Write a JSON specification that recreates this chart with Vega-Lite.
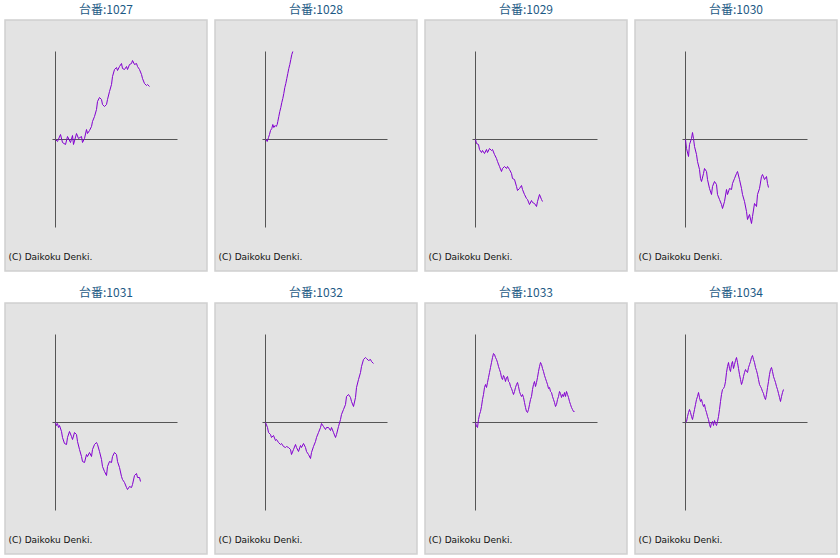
{
  "$schema": "https://vega.github.io/schema/vega-lite/v6.json",
  "background": "white",
  "padding": {"left": 4, "top": 3, "right": 0, "bottom": 0},
  "data": {
    "values": [
      {"m": "1027", "x": 0, "y": 0}, {"m": "1027", "x": 2, "y": -2}, {"m": "1027", "x": 5, "y": 5}, {"m": "1027", "x": 7, "y": -3}, {"m": "1027", "x": 10, "y": -5}, {"m": "1027", "x": 12, "y": 3}, {"m": "1027", "x": 15, "y": -3}, {"m": "1027", "x": 17, "y": 4}, {"m": "1027", "x": 18, "y": -5}, {"m": "1027", "x": 21, "y": 6}, {"m": "1027", "x": 23, "y": 1}, {"m": "1027", "x": 26, "y": 3}, {"m": "1027", "x": 27, "y": -3}, {"m": "1027", "x": 29, "y": 1}, {"m": "1027", "x": 31, "y": 10}, {"m": "1027", "x": 32, "y": 6}, {"m": "1027", "x": 34, "y": 9}, {"m": "1027", "x": 36, "y": 13}, {"m": "1027", "x": 37, "y": 18}, {"m": "1027", "x": 39, "y": 23}, {"m": "1027", "x": 41, "y": 30}, {"m": "1027", "x": 42, "y": 38}, {"m": "1027", "x": 44, "y": 42}, {"m": "1027", "x": 46, "y": 40}, {"m": "1027", "x": 47, "y": 35}, {"m": "1027", "x": 49, "y": 33}, {"m": "1027", "x": 51, "y": 35}, {"m": "1027", "x": 52, "y": 40}, {"m": "1027", "x": 54, "y": 48}, {"m": "1027", "x": 56, "y": 55}, {"m": "1027", "x": 57, "y": 63}, {"m": "1027", "x": 59, "y": 70}, {"m": "1027", "x": 61, "y": 72}, {"m": "1027", "x": 62, "y": 69}, {"m": "1027", "x": 64, "y": 73}, {"m": "1027", "x": 66, "y": 76}, {"m": "1027", "x": 67, "y": 71}, {"m": "1027", "x": 69, "y": 70}, {"m": "1027", "x": 71, "y": 73}, {"m": "1027", "x": 72, "y": 70}, {"m": "1027", "x": 74, "y": 75}, {"m": "1027", "x": 76, "y": 76}, {"m": "1027", "x": 77, "y": 79}, {"m": "1027", "x": 79, "y": 75}, {"m": "1027", "x": 81, "y": 76}, {"m": "1027", "x": 82, "y": 73}, {"m": "1027", "x": 84, "y": 70}, {"m": "1027", "x": 86, "y": 65}, {"m": "1027", "x": 87, "y": 61}, {"m": "1027", "x": 89, "y": 56}, {"m": "1027", "x": 91, "y": 54}, {"m": "1027", "x": 92, "y": 55}, {"m": "1027", "x": 94, "y": 53},
      {"m": "1028", "x": 0, "y": 0}, {"m": "1028", "x": 1.7, "y": -2}, {"m": "1028", "x": 3, "y": 2}, {"m": "1028", "x": 4, "y": 5}, {"m": "1028", "x": 5, "y": 9}, {"m": "1028", "x": 6.3, "y": 11}, {"m": "1028", "x": 7.3, "y": 15}, {"m": "1028", "x": 8.3, "y": 12}, {"m": "1028", "x": 9.7, "y": 14}, {"m": "1028", "x": 10.7, "y": 13}, {"m": "1028", "x": 11.7, "y": 15}, {"m": "1028", "x": 12.3, "y": 18}, {"m": "1028", "x": 13.3, "y": 23}, {"m": "1028", "x": 14.3, "y": 28}, {"m": "1028", "x": 15.3, "y": 32}, {"m": "1028", "x": 16.3, "y": 37}, {"m": "1028", "x": 17.3, "y": 41}, {"m": "1028", "x": 18.3, "y": 46}, {"m": "1028", "x": 19.3, "y": 52}, {"m": "1028", "x": 20.3, "y": 56}, {"m": "1028", "x": 21.3, "y": 61}, {"m": "1028", "x": 22.3, "y": 66}, {"m": "1028", "x": 23.3, "y": 71}, {"m": "1028", "x": 24.3, "y": 75}, {"m": "1028", "x": 25.3, "y": 80}, {"m": "1028", "x": 26.3, "y": 85}, {"m": "1028", "x": 27.3, "y": 88},
      {"m": "1029", "x": 0, "y": 0}, {"m": "1029", "x": 1, "y": -4}, {"m": "1029", "x": 3, "y": -5}, {"m": "1029", "x": 4, "y": -10}, {"m": "1029", "x": 6, "y": -13}, {"m": "1029", "x": 7, "y": -11}, {"m": "1029", "x": 9, "y": -14}, {"m": "1029", "x": 11, "y": -10}, {"m": "1029", "x": 12, "y": -13}, {"m": "1029", "x": 14, "y": -9}, {"m": "1029", "x": 16, "y": -11}, {"m": "1029", "x": 17, "y": -10}, {"m": "1029", "x": 19, "y": -15}, {"m": "1029", "x": 21, "y": -19}, {"m": "1029", "x": 22, "y": -22}, {"m": "1029", "x": 24, "y": -27}, {"m": "1029", "x": 26, "y": -32}, {"m": "1029", "x": 27, "y": -29}, {"m": "1029", "x": 29, "y": -27}, {"m": "1029", "x": 31, "y": -29}, {"m": "1029", "x": 32, "y": -27}, {"m": "1029", "x": 34, "y": -30}, {"m": "1029", "x": 36, "y": -34}, {"m": "1029", "x": 37, "y": -39}, {"m": "1029", "x": 39, "y": -40}, {"m": "1029", "x": 41, "y": -47}, {"m": "1029", "x": 42, "y": -51}, {"m": "1029", "x": 44, "y": -49}, {"m": "1029", "x": 46, "y": -46}, {"m": "1029", "x": 47, "y": -50}, {"m": "1029", "x": 49, "y": -55}, {"m": "1029", "x": 51, "y": -59}, {"m": "1029", "x": 52, "y": -60}, {"m": "1029", "x": 54, "y": -65}, {"m": "1029", "x": 56, "y": -61}, {"m": "1029", "x": 57, "y": -63}, {"m": "1029", "x": 59, "y": -64}, {"m": "1029", "x": 61, "y": -67}, {"m": "1029", "x": 62, "y": -62}, {"m": "1029", "x": 64, "y": -55}, {"m": "1029", "x": 66, "y": -60}, {"m": "1029", "x": 67, "y": -62},
      {"m": "1030", "x": 0, "y": 0}, {"m": "1030", "x": 1, "y": -9}, {"m": "1030", "x": 3, "y": -17}, {"m": "1030", "x": 4, "y": -5}, {"m": "1030", "x": 6, "y": 1}, {"m": "1030", "x": 7, "y": 7}, {"m": "1030", "x": 8, "y": 1}, {"m": "1030", "x": 9, "y": -7}, {"m": "1030", "x": 11, "y": -15}, {"m": "1030", "x": 12, "y": -22}, {"m": "1030", "x": 14, "y": -30}, {"m": "1030", "x": 15, "y": -39}, {"m": "1030", "x": 16, "y": -42}, {"m": "1030", "x": 18, "y": -34}, {"m": "1030", "x": 19, "y": -29}, {"m": "1030", "x": 21, "y": -32}, {"m": "1030", "x": 22, "y": -40}, {"m": "1030", "x": 24, "y": -49}, {"m": "1030", "x": 26, "y": -55}, {"m": "1030", "x": 27, "y": -47}, {"m": "1030", "x": 29, "y": -42}, {"m": "1030", "x": 31, "y": -45}, {"m": "1030", "x": 32, "y": -55}, {"m": "1030", "x": 34, "y": -60}, {"m": "1030", "x": 36, "y": -65}, {"m": "1030", "x": 37, "y": -69}, {"m": "1030", "x": 39, "y": -62}, {"m": "1030", "x": 41, "y": -50}, {"m": "1030", "x": 42, "y": -55}, {"m": "1030", "x": 44, "y": -49}, {"m": "1030", "x": 46, "y": -50}, {"m": "1030", "x": 47, "y": -44}, {"m": "1030", "x": 49, "y": -39}, {"m": "1030", "x": 51, "y": -34}, {"m": "1030", "x": 52, "y": -32}, {"m": "1030", "x": 54, "y": -40}, {"m": "1030", "x": 56, "y": -49}, {"m": "1030", "x": 57, "y": -55}, {"m": "1030", "x": 59, "y": -62}, {"m": "1030", "x": 61, "y": -72}, {"m": "1030", "x": 62, "y": -80}, {"m": "1030", "x": 64, "y": -75}, {"m": "1030", "x": 66, "y": -84}, {"m": "1030", "x": 67, "y": -77}, {"m": "1030", "x": 69, "y": -64}, {"m": "1030", "x": 71, "y": -67}, {"m": "1030", "x": 72, "y": -55}, {"m": "1030", "x": 74, "y": -49}, {"m": "1030", "x": 76, "y": -37}, {"m": "1030", "x": 77, "y": -35}, {"m": "1030", "x": 79, "y": -40}, {"m": "1030", "x": 81, "y": -37}, {"m": "1030", "x": 82, "y": -44}, {"m": "1030", "x": 83, "y": -48},
      {"m": "1031", "x": 0, "y": 0}, {"m": "1031", "x": 1, "y": -3}, {"m": "1031", "x": 2, "y": -1}, {"m": "1031", "x": 3, "y": -5}, {"m": "1031", "x": 4, "y": -3}, {"m": "1031", "x": 6, "y": -9}, {"m": "1031", "x": 7, "y": -15}, {"m": "1031", "x": 9, "y": -21}, {"m": "1031", "x": 11, "y": -22}, {"m": "1031", "x": 12, "y": -15}, {"m": "1031", "x": 14, "y": -9}, {"m": "1031", "x": 16, "y": -14}, {"m": "1031", "x": 17, "y": -17}, {"m": "1031", "x": 19, "y": -10}, {"m": "1031", "x": 21, "y": -12}, {"m": "1031", "x": 22, "y": -19}, {"m": "1031", "x": 24, "y": -27}, {"m": "1031", "x": 26, "y": -34}, {"m": "1031", "x": 27, "y": -39}, {"m": "1031", "x": 29, "y": -40}, {"m": "1031", "x": 31, "y": -32}, {"m": "1031", "x": 32, "y": -34}, {"m": "1031", "x": 34, "y": -30}, {"m": "1031", "x": 36, "y": -34}, {"m": "1031", "x": 37, "y": -27}, {"m": "1031", "x": 39, "y": -22}, {"m": "1031", "x": 41, "y": -20}, {"m": "1031", "x": 42, "y": -22}, {"m": "1031", "x": 44, "y": -29}, {"m": "1031", "x": 46, "y": -37}, {"m": "1031", "x": 47, "y": -44}, {"m": "1031", "x": 49, "y": -49}, {"m": "1031", "x": 51, "y": -53}, {"m": "1031", "x": 52, "y": -44}, {"m": "1031", "x": 54, "y": -39}, {"m": "1031", "x": 56, "y": -40}, {"m": "1031", "x": 57, "y": -34}, {"m": "1031", "x": 59, "y": -30}, {"m": "1031", "x": 61, "y": -32}, {"m": "1031", "x": 62, "y": -39}, {"m": "1031", "x": 64, "y": -45}, {"m": "1031", "x": 66, "y": -54}, {"m": "1031", "x": 67, "y": -57}, {"m": "1031", "x": 69, "y": -60}, {"m": "1031", "x": 71, "y": -65}, {"m": "1031", "x": 72, "y": -67}, {"m": "1031", "x": 74, "y": -64}, {"m": "1031", "x": 76, "y": -65}, {"m": "1031", "x": 77, "y": -62}, {"m": "1031", "x": 79, "y": -53}, {"m": "1031", "x": 81, "y": -51}, {"m": "1031", "x": 82, "y": -55}, {"m": "1031", "x": 84, "y": -55}, {"m": "1031", "x": 85, "y": -59},
      {"m": "1032", "x": 0, "y": 0}, {"m": "1032", "x": 2, "y": -5}, {"m": "1032", "x": 3, "y": -10}, {"m": "1032", "x": 5, "y": -12}, {"m": "1032", "x": 6, "y": -15}, {"m": "1032", "x": 8, "y": -13}, {"m": "1032", "x": 10, "y": -18}, {"m": "1032", "x": 11, "y": -17}, {"m": "1032", "x": 13, "y": -20}, {"m": "1032", "x": 15, "y": -22}, {"m": "1032", "x": 16, "y": -21}, {"m": "1032", "x": 18, "y": -24}, {"m": "1032", "x": 20, "y": -25}, {"m": "1032", "x": 21, "y": -24}, {"m": "1032", "x": 23, "y": -25}, {"m": "1032", "x": 25, "y": -27}, {"m": "1032", "x": 26, "y": -32}, {"m": "1032", "x": 28, "y": -27}, {"m": "1032", "x": 30, "y": -22}, {"m": "1032", "x": 31, "y": -25}, {"m": "1032", "x": 33, "y": -29}, {"m": "1032", "x": 35, "y": -23}, {"m": "1032", "x": 36, "y": -25}, {"m": "1032", "x": 38, "y": -21}, {"m": "1032", "x": 40, "y": -25}, {"m": "1032", "x": 41, "y": -29}, {"m": "1032", "x": 43, "y": -32}, {"m": "1032", "x": 45, "y": -36}, {"m": "1032", "x": 46, "y": -30}, {"m": "1032", "x": 48, "y": -24}, {"m": "1032", "x": 50, "y": -19}, {"m": "1032", "x": 51, "y": -15}, {"m": "1032", "x": 53, "y": -10}, {"m": "1032", "x": 55, "y": -5}, {"m": "1032", "x": 56, "y": -1}, {"m": "1032", "x": 58, "y": -4}, {"m": "1032", "x": 60, "y": -7}, {"m": "1032", "x": 61, "y": -5}, {"m": "1032", "x": 63, "y": -5}, {"m": "1032", "x": 65, "y": -8}, {"m": "1032", "x": 66, "y": -5}, {"m": "1032", "x": 68, "y": -10}, {"m": "1032", "x": 70, "y": -15}, {"m": "1032", "x": 71, "y": -12}, {"m": "1032", "x": 73, "y": -4}, {"m": "1032", "x": 75, "y": 3}, {"m": "1032", "x": 76, "y": 8}, {"m": "1032", "x": 78, "y": 13}, {"m": "1032", "x": 80, "y": 18}, {"m": "1032", "x": 81, "y": 26}, {"m": "1032", "x": 83, "y": 28}, {"m": "1032", "x": 85, "y": 25}, {"m": "1032", "x": 86, "y": 21}, {"m": "1032", "x": 88, "y": 16}, {"m": "1032", "x": 90, "y": 25}, {"m": "1032", "x": 91, "y": 35}, {"m": "1032", "x": 93, "y": 43}, {"m": "1032", "x": 95, "y": 50}, {"m": "1032", "x": 96, "y": 56}, {"m": "1032", "x": 98, "y": 63}, {"m": "1032", "x": 100, "y": 65}, {"m": "1032", "x": 101, "y": 64}, {"m": "1032", "x": 103, "y": 62}, {"m": "1032", "x": 105, "y": 63}, {"m": "1032", "x": 106, "y": 61}, {"m": "1032", "x": 108, "y": 59},
      {"m": "1033", "x": 0, "y": 0}, {"m": "1033", "x": 1, "y": -4}, {"m": "1033", "x": 2, "y": -5}, {"m": "1033", "x": 3, "y": 3}, {"m": "1033", "x": 4, "y": 8}, {"m": "1033", "x": 5, "y": 11}, {"m": "1033", "x": 6, "y": 16}, {"m": "1033", "x": 7, "y": 23}, {"m": "1033", "x": 8, "y": 28}, {"m": "1033", "x": 9, "y": 35}, {"m": "1033", "x": 10, "y": 38}, {"m": "1033", "x": 11, "y": 35}, {"m": "1033", "x": 12, "y": 40}, {"m": "1033", "x": 13, "y": 45}, {"m": "1033", "x": 14, "y": 50}, {"m": "1033", "x": 15, "y": 55}, {"m": "1033", "x": 16, "y": 60}, {"m": "1033", "x": 17, "y": 65}, {"m": "1033", "x": 18, "y": 69}, {"m": "1033", "x": 19, "y": 68}, {"m": "1033", "x": 20, "y": 65}, {"m": "1033", "x": 21, "y": 63}, {"m": "1033", "x": 22, "y": 60}, {"m": "1033", "x": 23, "y": 56}, {"m": "1033", "x": 24, "y": 53}, {"m": "1033", "x": 25, "y": 50}, {"m": "1033", "x": 26, "y": 45}, {"m": "1033", "x": 27, "y": 43}, {"m": "1033", "x": 28, "y": 47}, {"m": "1033", "x": 29, "y": 45}, {"m": "1033", "x": 30, "y": 41}, {"m": "1033", "x": 31, "y": 45}, {"m": "1033", "x": 32, "y": 46}, {"m": "1033", "x": 33, "y": 41}, {"m": "1033", "x": 34, "y": 40}, {"m": "1033", "x": 35, "y": 36}, {"m": "1033", "x": 36, "y": 34}, {"m": "1033", "x": 37, "y": 31}, {"m": "1033", "x": 38, "y": 28}, {"m": "1033", "x": 39, "y": 31}, {"m": "1033", "x": 40, "y": 35}, {"m": "1033", "x": 41, "y": 38}, {"m": "1033", "x": 42, "y": 40}, {"m": "1033", "x": 43, "y": 36}, {"m": "1033", "x": 44, "y": 31}, {"m": "1033", "x": 45, "y": 28}, {"m": "1033", "x": 46, "y": 26}, {"m": "1033", "x": 47, "y": 28}, {"m": "1033", "x": 48, "y": 25}, {"m": "1033", "x": 49, "y": 20}, {"m": "1033", "x": 50, "y": 15}, {"m": "1033", "x": 51, "y": 11}, {"m": "1033", "x": 52, "y": 10}, {"m": "1033", "x": 53, "y": 13}, {"m": "1033", "x": 54, "y": 18}, {"m": "1033", "x": 55, "y": 23}, {"m": "1033", "x": 56, "y": 26}, {"m": "1033", "x": 57, "y": 33}, {"m": "1033", "x": 58, "y": 38}, {"m": "1033", "x": 59, "y": 41}, {"m": "1033", "x": 60, "y": 36}, {"m": "1033", "x": 61, "y": 40}, {"m": "1033", "x": 62, "y": 45}, {"m": "1033", "x": 63, "y": 51}, {"m": "1033", "x": 64, "y": 56}, {"m": "1033", "x": 65, "y": 60}, {"m": "1033", "x": 66, "y": 58}, {"m": "1033", "x": 67, "y": 54}, {"m": "1033", "x": 68, "y": 51}, {"m": "1033", "x": 69, "y": 47}, {"m": "1033", "x": 70, "y": 44}, {"m": "1033", "x": 71, "y": 41}, {"m": "1033", "x": 72, "y": 38}, {"m": "1033", "x": 73, "y": 34}, {"m": "1033", "x": 74, "y": 35}, {"m": "1033", "x": 75, "y": 31}, {"m": "1033", "x": 76, "y": 30}, {"m": "1033", "x": 77, "y": 26}, {"m": "1033", "x": 78, "y": 23}, {"m": "1033", "x": 79, "y": 20}, {"m": "1033", "x": 80, "y": 16}, {"m": "1033", "x": 81, "y": 18}, {"m": "1033", "x": 82, "y": 23}, {"m": "1033", "x": 83, "y": 26}, {"m": "1033", "x": 84, "y": 31}, {"m": "1033", "x": 85, "y": 29}, {"m": "1033", "x": 86, "y": 25}, {"m": "1033", "x": 87, "y": 28}, {"m": "1033", "x": 88, "y": 26}, {"m": "1033", "x": 89, "y": 30}, {"m": "1033", "x": 90, "y": 26}, {"m": "1033", "x": 91, "y": 31}, {"m": "1033", "x": 92, "y": 28}, {"m": "1033", "x": 93, "y": 25}, {"m": "1033", "x": 94, "y": 21}, {"m": "1033", "x": 95, "y": 18}, {"m": "1033", "x": 96, "y": 15}, {"m": "1033", "x": 97, "y": 13}, {"m": "1033", "x": 98, "y": 11}, {"m": "1033", "x": 99, "y": 11},
      {"m": "1034", "x": 0, "y": 0}, {"m": "1034", "x": 1, "y": 1}, {"m": "1034", "x": 2, "y": 6}, {"m": "1034", "x": 3, "y": 10}, {"m": "1034", "x": 4, "y": 13}, {"m": "1034", "x": 5, "y": 10}, {"m": "1034", "x": 6, "y": 6}, {"m": "1034", "x": 7, "y": 3}, {"m": "1034", "x": 8, "y": 8}, {"m": "1034", "x": 9, "y": 13}, {"m": "1034", "x": 10, "y": 18}, {"m": "1034", "x": 11, "y": 23}, {"m": "1034", "x": 12, "y": 26}, {"m": "1034", "x": 13, "y": 30}, {"m": "1034", "x": 14, "y": 25}, {"m": "1034", "x": 15, "y": 21}, {"m": "1034", "x": 16, "y": 23}, {"m": "1034", "x": 17, "y": 19}, {"m": "1034", "x": 18, "y": 16}, {"m": "1034", "x": 19, "y": 18}, {"m": "1034", "x": 20, "y": 13}, {"m": "1034", "x": 21, "y": 10}, {"m": "1034", "x": 22, "y": 6}, {"m": "1034", "x": 23, "y": 3}, {"m": "1034", "x": 24, "y": -2}, {"m": "1034", "x": 25, "y": -5}, {"m": "1034", "x": 26, "y": 0}, {"m": "1034", "x": 27, "y": 1}, {"m": "1034", "x": 28, "y": -3}, {"m": "1034", "x": 29, "y": 2}, {"m": "1034", "x": 30, "y": -1}, {"m": "1034", "x": 31, "y": -3}, {"m": "1034", "x": 32, "y": 1}, {"m": "1034", "x": 33, "y": 6}, {"m": "1034", "x": 34, "y": 13}, {"m": "1034", "x": 35, "y": 21}, {"m": "1034", "x": 36, "y": 28}, {"m": "1034", "x": 37, "y": 33}, {"m": "1034", "x": 38, "y": 34}, {"m": "1034", "x": 39, "y": 36}, {"m": "1034", "x": 40, "y": 41}, {"m": "1034", "x": 41, "y": 50}, {"m": "1034", "x": 42, "y": 56}, {"m": "1034", "x": 43, "y": 60}, {"m": "1034", "x": 44, "y": 54}, {"m": "1034", "x": 45, "y": 51}, {"m": "1034", "x": 46, "y": 58}, {"m": "1034", "x": 47, "y": 61}, {"m": "1034", "x": 48, "y": 54}, {"m": "1034", "x": 49, "y": 58}, {"m": "1034", "x": 50, "y": 62}, {"m": "1034", "x": 51, "y": 65}, {"m": "1034", "x": 52, "y": 60}, {"m": "1034", "x": 53, "y": 54}, {"m": "1034", "x": 54, "y": 48}, {"m": "1034", "x": 55, "y": 43}, {"m": "1034", "x": 56, "y": 38}, {"m": "1034", "x": 57, "y": 41}, {"m": "1034", "x": 58, "y": 46}, {"m": "1034", "x": 59, "y": 50}, {"m": "1034", "x": 60, "y": 53}, {"m": "1034", "x": 61, "y": 51}, {"m": "1034", "x": 62, "y": 50}, {"m": "1034", "x": 63, "y": 55}, {"m": "1034", "x": 64, "y": 58}, {"m": "1034", "x": 65, "y": 61}, {"m": "1034", "x": 66, "y": 65}, {"m": "1034", "x": 67, "y": 67}, {"m": "1034", "x": 68, "y": 63}, {"m": "1034", "x": 69, "y": 60}, {"m": "1034", "x": 70, "y": 55}, {"m": "1034", "x": 71, "y": 52}, {"m": "1034", "x": 72, "y": 48}, {"m": "1034", "x": 73, "y": 43}, {"m": "1034", "x": 74, "y": 38}, {"m": "1034", "x": 75, "y": 36}, {"m": "1034", "x": 76, "y": 34}, {"m": "1034", "x": 77, "y": 31}, {"m": "1034", "x": 78, "y": 29}, {"m": "1034", "x": 79, "y": 25}, {"m": "1034", "x": 80, "y": 23}, {"m": "1034", "x": 81, "y": 28}, {"m": "1034", "x": 82, "y": 35}, {"m": "1034", "x": 83, "y": 41}, {"m": "1034", "x": 84, "y": 48}, {"m": "1034", "x": 85, "y": 53}, {"m": "1034", "x": 86, "y": 55}, {"m": "1034", "x": 87, "y": 51}, {"m": "1034", "x": 88, "y": 46}, {"m": "1034", "x": 89, "y": 43}, {"m": "1034", "x": 90, "y": 40}, {"m": "1034", "x": 91, "y": 36}, {"m": "1034", "x": 92, "y": 33}, {"m": "1034", "x": 93, "y": 29}, {"m": "1034", "x": 94, "y": 25}, {"m": "1034", "x": 95, "y": 21}, {"m": "1034", "x": 96, "y": 26}, {"m": "1034", "x": 97, "y": 30}, {"m": "1034", "x": 98, "y": 33}
    ]
  },
  "facet": {
    "field": "m",
    "type": "nominal",
    "title": null,
    "header": {
      "labelExpr": "'台番:' + datum.value",
      "labelFont": "Noto Sans CJK JP",
      "labelFontSize": 12,
      "labelColor": "#1d5a85",
      "labelPadding": 3
    }
  },
  "columns": 4,
  "spacing": {"row": 14, "column": 6},
  "spec": {
    "width": 202,
    "height": 251,
    "layer": [
      {
        "transform": [{"aggregate": [{"op": "count", "as": "n"}], "groupby": ["m"]}],
        "mark": {"type": "rule", "color": "#555555", "strokeWidth": 1},
        "encoding": {
          "x": {"datum": -3, "type": "quantitative", "scale": {"domain": [-50.5, 151.5], "nice": false, "zero": false}, "axis": null},
          "x2": {"datum": 122},
          "y": {"datum": 0, "type": "quantitative", "scale": {"domain": [-131.5, 119.5], "nice": false, "zero": false}, "axis": null}
        }
      },
      {
        "transform": [{"aggregate": [{"op": "count", "as": "n"}], "groupby": ["m"]}],
        "mark": {"type": "rule", "color": "#555555", "strokeWidth": 1},
        "encoding": {
          "x": {"datum": 0, "type": "quantitative"},
          "y": {"datum": -88, "type": "quantitative"},
          "y2": {"datum": 88}
        }
      },
      {
        "transform": [{"aggregate": [{"op": "count", "as": "n"}], "groupby": ["m"]}],
        "mark": {"type": "text", "text": "(C) Daikoku Denki.", "font": "DejaVu Sans", "fontSize": 9, "color": "#111111", "align": "left", "baseline": "alphabetic"},
        "encoding": {
          "x": {"datum": -47, "type": "quantitative"},
          "y": {"datum": -120, "type": "quantitative"}
        }
      },
      {
        "mark": {"type": "line", "color": "#8200d0", "strokeWidth": 1, "clip": true},
        "encoding": {
          "x": {"field": "x", "type": "quantitative"},
          "y": {"field": "y", "type": "quantitative"}
        }
      }
    ]
  },
  "config": {
    "view": {"fill": "#e3e3e3", "stroke": "#d0d0d0", "strokeWidth": 1.5}
  }
}
